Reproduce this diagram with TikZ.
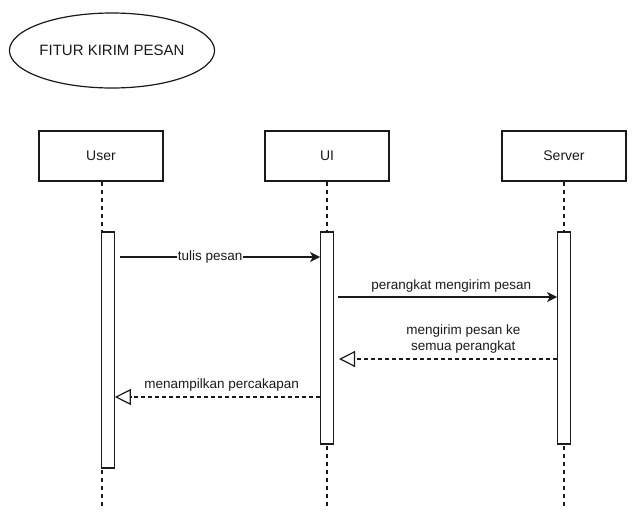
\documentclass[tikz,border=0pt]{standalone}
\usepackage{fontspec}
\setmainfont{Liberation Sans}
\usetikzlibrary{arrows.meta,shapes.geometric}
\definecolor{ink}{HTML}{1A1A1A}
\begin{document}
\begin{tikzpicture}[x=1pt,y=-1pt,
  every node/.style={text=ink},
  lbl/.style={font=\fontsize{13.5}{16}\selectfont},
  actorbox/.style={draw=ink, line width=1.2pt, minimum width=124pt, minimum height=50pt, inner sep=0pt, font=\fontsize{14}{16}\selectfont},
  actbar/.style={draw=ink, fill=white, line width=1.2pt, minimum width=12.5pt, inner sep=0pt},
  lifeline/.style={draw=ink, line width=1.2pt, dash pattern=on 4pt off 4pt},
  callmsg/.style={draw=ink, line width=1.2pt, -{Stealth[length=10pt,width=10pt,inset=2.5pt]}},
  retmsg/.style={draw=ink, line width=1.2pt, dash pattern=on 4pt off 3pt, -{Triangle[open,length=16pt,width=16pt]}}
]
\useasboundingbox (0,0) rectangle (640,520);

\node[draw=ink, line width=1.2pt, ellipse, minimum width=202pt, minimum height=75pt, inner sep=0pt,
  font=\fontsize{15}{18}\selectfont] (title) at (112,50.5) {FITUR KIRIM PESAN};

\node[actorbox] (user) at (101,156) {User};
\node[actorbox] (ui) at (327,156) {UI};
\node[actorbox] (server) at (564,156) {Server};

\coordinate (uend) at (102,507);
\coordinate (iend) at (327,507);
\coordinate (send) at (564,507);
\draw[lifeline] (user.south -| uend) -- (uend);
\draw[lifeline] (ui.south) -- (iend);
\draw[lifeline] (server.south) -- (send);

\node[actbar, minimum height=236pt] (ubar) at (108,350) {};
\node[actbar, minimum height=212pt] (ibar) at (327,338) {};
\node[actbar, minimum height=212pt] (sbar) at (564,338) {};

\coordinate (y1) at (0,257);
\coordinate (y2) at (0,297);
\coordinate (y3) at (0,359);
\coordinate (y4) at (0,397);
\coordinate (u1) at (120,257);
\coordinate (i2) at (338,297);
\coordinate (i3) at (339,359);

\draw[callmsg] (u1) -- node[lbl, fill=white, inner sep=1pt, pos=0.45] {tulis pesan} (ibar.west |- y1);
\draw[callmsg] (i2) -- node[lbl, above=1pt, pos=0.517] {perangkat mengirim pesan} (sbar.west |- y2);
\draw[retmsg] (sbar.west |- y3) -- node[lbl, above=2pt, pos=0.43, align=center] {mengirim pesan ke\\semua perangkat} (i3);
\draw[retmsg] (ibar.west |- y4) -- node[lbl, above=2pt, pos=0.48] {menampilkan percakapan} (ubar.east |- y4);
\end{tikzpicture}
\end{document}
